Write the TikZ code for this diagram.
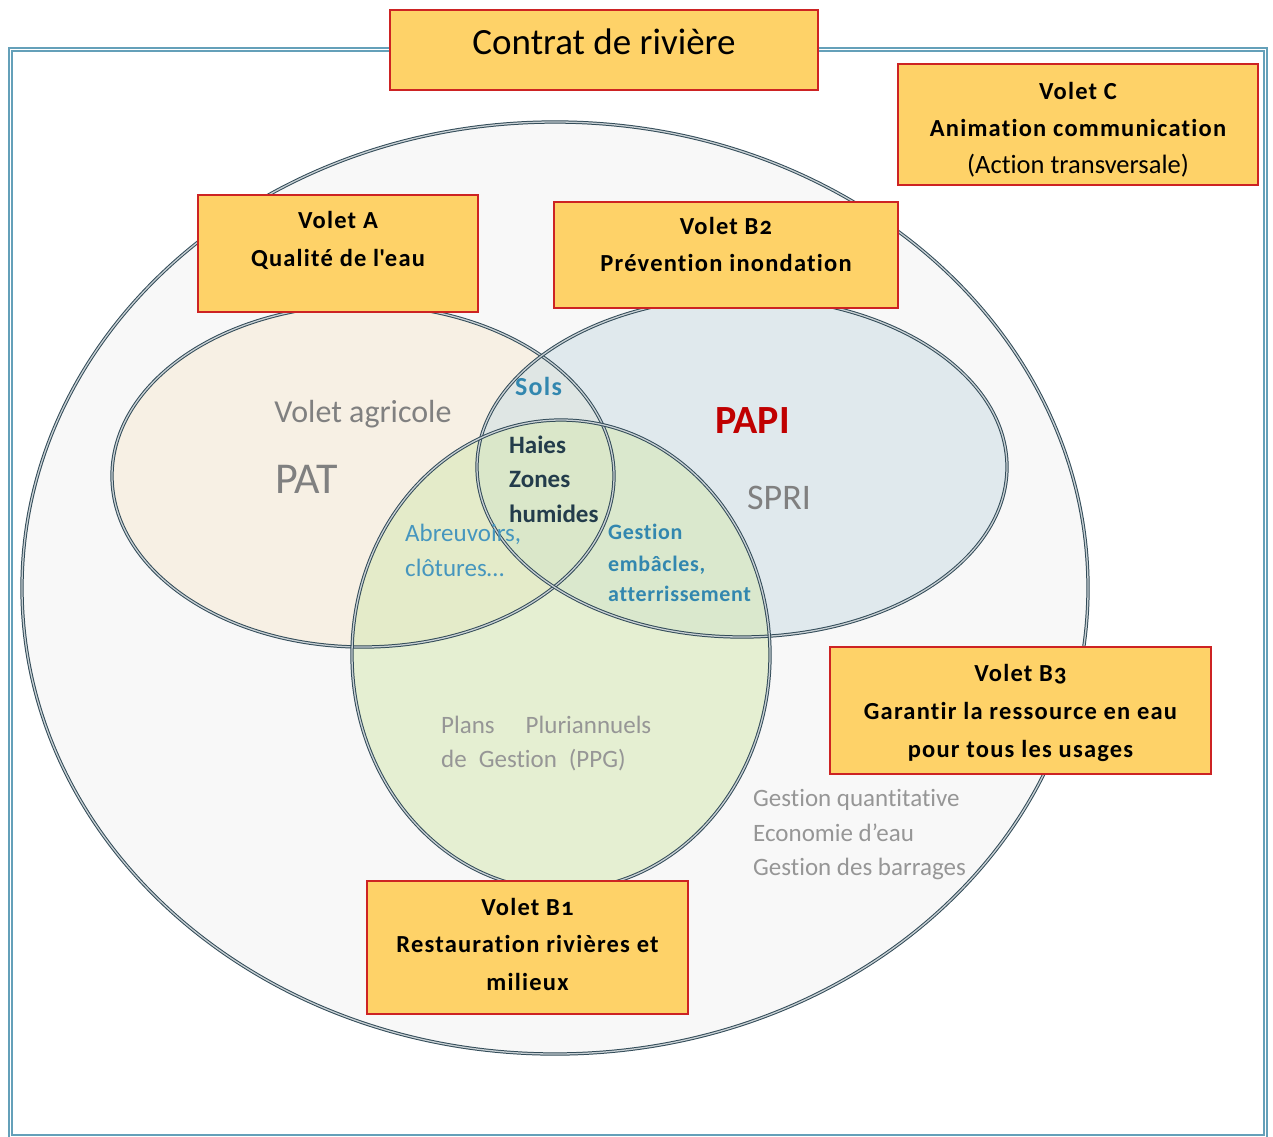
\documentclass[tikz,border=0pt]{standalone}
\usepackage{fontspec}
\setmainfont{Carlito}[Numbers=OldStyle, Ligatures=CommonOff]
\definecolor{framecol}{RGB}{100,160,185}
\definecolor{boxfill}{RGB}{254,210,104}
\definecolor{boxline}{RGB}{205,35,35}
\definecolor{edgecol}{RGB}{50,75,88}
\definecolor{gapcol}{RGB}{200,208,212}
\definecolor{outerfill}{RGB}{248,248,248}
\definecolor{afill}{RGB}{246,232,205}
\definecolor{bbfill}{RGB}{205,222,228}
\definecolor{bafill}{RGB}{214,232,180}
\definecolor{graytxt}{RGB}{128,128,128}
\definecolor{lightgray}{RGB}{150,150,150}
\definecolor{bluetxt}{RGB}{50,135,175}
\definecolor{bluetxt2}{RGB}{70,150,190}
\definecolor{darktxt}{RGB}{35,60,75}
\definecolor{redtxt}{RGB}{192,0,0}
\newcommand{\straightq}{\XeTeXglyph\XeTeXcharglyph"27\relax}
\tikzset{
  volet/.style={draw=boxline, line width=1.5pt, fill=boxfill, rectangle, inner sep=0pt},
  ring/.style={draw=edgecol, line width=1pt, double=gapcol, double distance=1.3pt},
  bline/.style={anchor=base, inner sep=0pt, font=\fontsize{24.5}{28}\selectfont\bfseries\addfontfeatures{LetterSpace=5}},
  rline/.style={anchor=base, inner sep=0pt, font=\fontsize{26.5}{32}\selectfont},
  lbl/.style={inner sep=0pt, anchor=base},
  lblw/.style={inner sep=0pt, anchor=base west}
}
\begin{document}
\begin{tikzpicture}[x=1pt,y=-1pt]
\useasboundingbox (0,0) rectangle (1273,1136);
% outer frame
\begin{scope}
\clip (0,0) rectangle (1273,1136);
\draw[draw=framecol, line width=1.3pt, double=white, double distance=1.5pt] (10.5,49.5) rectangle (1265.5,1136.5);
\end{scope}
% big ellipse
\fill[outerfill] (555,588) ellipse [x radius=533, y radius=466];
\draw[ring] (555,588) ellipse [x radius=533, y radius=466];
% three sets
\fill[afill, fill opacity=0.45] (363,476) ellipse [x radius=251, y radius=171];
\fill[bbfill, fill opacity=0.55] (742,467) ellipse [x radius=265, y radius=170];
\fill[bafill, fill opacity=0.55] (561,655) ellipse [x radius=209, y radius=235];
\draw[ring] (363,476) ellipse [x radius=251, y radius=171];
\draw[ring] (742,467) ellipse [x radius=265, y radius=170];
\draw[ring] (561,655) ellipse [x radius=209, y radius=235];
% inner labels
\node[lbl, text=graytxt, font=\fontsize{32}{38}\selectfont] (agri) at (363,422) {Volet agricole};
\node[lbl, text=graytxt, font=\fontsize{44}{50}\selectfont] (pat) at (306.5,493) {PAT};
\node[lbl, text=bluetxt, font=\fontsize{26}{30}\selectfont\bfseries\addfontfeatures{LetterSpace=5}] (sols) at (538.5,395) {Sols};
\node[lblw, text=darktxt, font=\fontsize{25}{30}\selectfont\bfseries] (haies) at (509,453) {Haies};
\node[lblw, text=darktxt, font=\fontsize{25}{30}\selectfont\bfseries] (zones) at (509,487) {Zones};
\node[lblw, text=darktxt, font=\fontsize{25}{30}\selectfont\bfseries] (humides) at (509,522) {humides};
\node[lblw, text=bluetxt2, font=\fontsize{25}{30}\selectfont] (abreuv) at (405,541) {Abreuvoirs,};
\node[lblw, text=bluetxt2, font=\fontsize{25}{30}\selectfont] (clot) at (405,576) {clôtures\ldots};
\node[lbl, text=redtxt, font=\fontsize{40}{46}\selectfont\bfseries] (papi) at (752.5,433) {PAPI};
\node[lbl, text=graytxt, font=\fontsize{36}{42}\selectfont] (spri) at (779,509) {SPRI};
\node[lblw, text=bluetxt, font=\fontsize{22}{26}\selectfont\bfseries\addfontfeatures{LetterSpace=3}] (gest) at (608,539) {Gestion};
\node[lblw, text=bluetxt, font=\fontsize{22}{26}\selectfont\bfseries\addfontfeatures{LetterSpace=3}] (emb) at (608,571) {embâcles,};
\node[lblw, text=bluetxt, font=\fontsize{22}{26}\selectfont\bfseries\addfontfeatures{LetterSpace=3}] (atter) at (608,601) {atterrissement};
\node[lblw, text=lightgray, font=\fontsize{25}{30}\selectfont] (ppg1) at (441,733) {Plans\hspace{31pt}Pluriannuels};
\node[lblw, text=lightgray, font=\fontsize{25}{30}\selectfont] (ppg2) at (441,767) {de\hspace{12pt}Gestion\hspace{12pt}(PPG)};
\node[lblw, text=lightgray, font=\fontsize{25}{30}\selectfont] (quant) at (753,806) {Gestion quantitative};
\node[lblw, text=lightgray, font=\fontsize{25}{30}\selectfont] (econ) at (753,841) {Economie d’eau};
\node[lblw, text=lightgray, font=\fontsize{25}{30}\selectfont] (barr) at (753,875) {Gestion des barrages};
% boxes
\node[volet, minimum width=428, minimum height=80] (titre) at (604,50) {};
\node[lbl, font=\fontsize{37}{44}\selectfont] (titretxt) at (604,54) {Contrat de rivière};
\node[volet, minimum width=360, minimum height=121] (vc) at (1078,124.5) {};
\node[bline] (vc1) at (1078,99) {Volet C};
\node[bline] (vc2) at (1078,136) {Animation communication};
\node[rline] (vc3) at (1078,173) {(Action transversale)};
\node[volet, minimum width=280, minimum height=117] (va) at (338,253.5) {};
\node[bline] (va1) at (338,228) {Volet A};
\node[bline] (va2) at (338,266) {Qualité de l\straightq eau};
\node[volet, minimum width=344, minimum height=106] (vb2) at (726,255) {};
\node[bline] (vb21) at (726,234) {Volet B2};
\node[bline] (vb22) at (726,271) {Prévention inondation};
\node[volet, minimum width=381, minimum height=127] (vb3) at (1020.5,710.5) {};
\node[bline] (vb31) at (1020.5,681) {Volet B3};
\node[bline] (vb32) at (1020.5,719) {Garantir la ressource en eau};
\node[bline] (vb33) at (1020.5,757) {pour tous les usages};
\node[volet, minimum width=321, minimum height=133] (vb1) at (527.5,947.5) {};
\node[bline] (vb11) at (527.5,915) {Volet B1};
\node[bline] (vb12) at (527.5,952) {Restauration rivières et};
\node[bline] (vb13) at (527.5,990) {milieux};
\end{tikzpicture}
\end{document}
